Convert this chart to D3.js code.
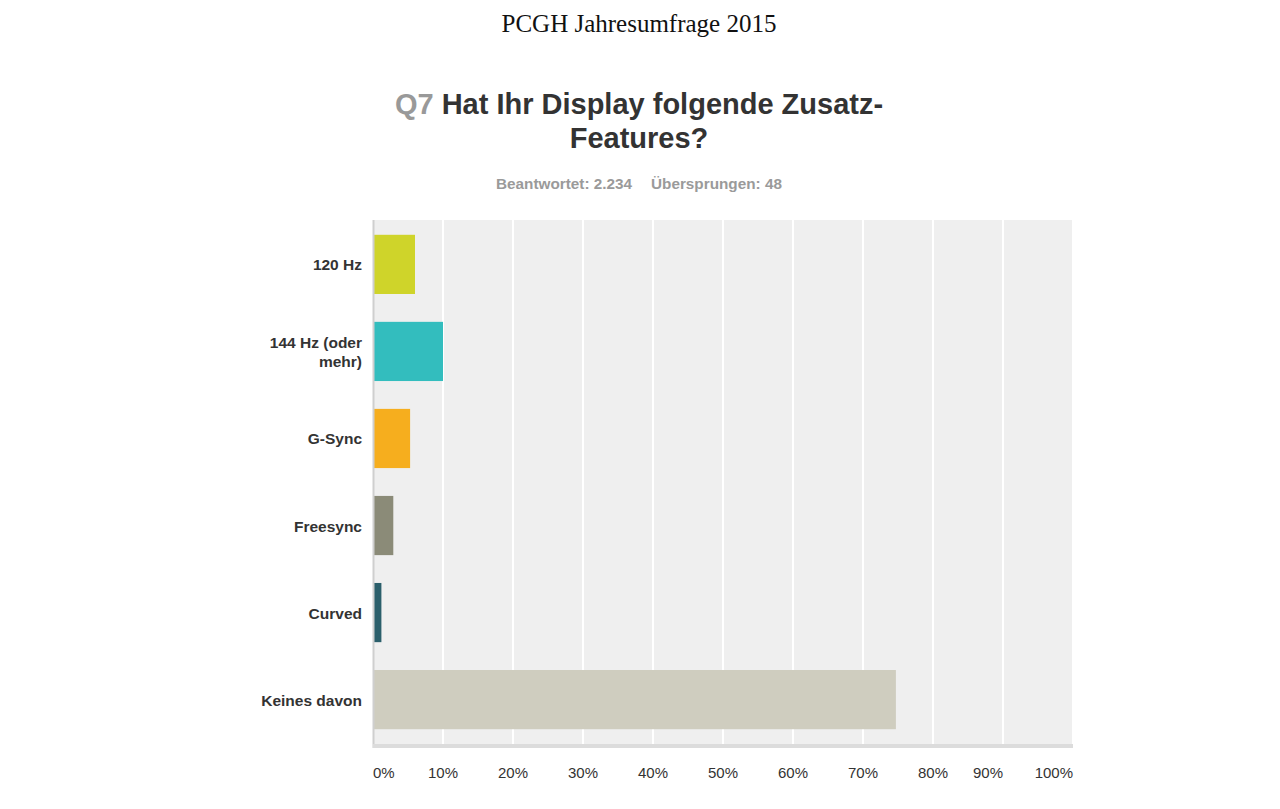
<!DOCTYPE html>
<html>
<head lang="de">
    <meta charset="UTF-8">
    <title>PCGH Jahresumfrage 2015 - Q7</title>
    <script src="https://d3js.org/d3.v7.min.js"></script>
    <style>
        body { margin: 0; background: #fff; }
    </style>
</head>
<body>
<div id="chartContainer"></div>
<script type="text/javascript">
    // answers (label lines) and share of respondents in percent
    var categories = [["120 Hz"], ["144 Hz (oder", "mehr)"], ["G-Sync"], ["Freesync"], ["Curved"], ["Keines davon"]];
    var values = [6.0, 10.0, 5.3, 2.9, 1.2, 74.7];
    var colors = ["#cfd42a", "#33bdbe", "#f6ae1e", "#8b8b78", "#2b5f6b", "#cfcdbf"];
    var ticks = [0, 10, 20, 30, 40, 50, 60, 70, 80, 90, 100];

    var W = 1280, H = 809;
    var svg = d3.select("#chartContainer").append("svg")
        .attr("width", W).attr("height", H);

    var sans = "'Liberation Sans', Arial, sans-serif";

    // page heading
    svg.append("text")
        .attr("x", 639).attr("y", 32)
        .attr("text-anchor", "middle")
        .style("font-family", "'Liberation Serif', 'Times New Roman', serif")
        .style("font-size", "25px")
        .style("fill", "#111")
        .text("PCGH Jahresumfrage 2015");

    // question title, two lines
    var q = svg.append("text")
        .attr("text-anchor", "middle")
        .style("font-family", sans)
        .style("font-size", "29px")
        .style("font-weight", "bold")
        .style("fill", "#333");
    var l1 = q.append("tspan").attr("x", 639).attr("y", 114);
    l1.append("tspan").style("fill", "#999").text("Q7 ");
    l1.append("tspan").text("Hat Ihr Display folgende Zusatz-");
    q.append("tspan").attr("x", 639).attr("y", 148).text("Features?");

    // answered / skipped counts
    var sub = svg.append("text")
        .attr("y", 189)
        .style("font-family", sans)
        .style("font-size", "15.3px")
        .style("font-weight", "bold")
        .style("fill", "#9a9a9a");
    sub.append("tspan").attr("x", 496).text("Beantwortet: 2.234");
    sub.append("tspan").attr("x", 651).text("Übersprungen: 48");

    // plot area
    var plotL = 373, plotR = 1073, plotT = 220, plotB = 744;

    var x = d3.scaleLinear().domain([0, 100]).range([plotL, plotR]);
    var y = d3.scaleBand()
        .domain(d3.range(categories.length))
        .range([plotT, plotB])
        .paddingInner(0.32)
        .paddingOuter(0.17);

    svg.append("rect")
        .attr("x", plotL).attr("y", plotT)
        .attr("width", plotR - plotL).attr("height", plotB - plotT)
        .style("fill", "#efefef");

    // vertical gridlines
    svg.selectAll("line.grid")
        .data(ticks.slice(1))
        .enter()
        .append("line")
        .attr("class", "grid")
        .attr("x1", function (d) { return x(d); })
        .attr("x2", function (d) { return x(d); })
        .attr("y1", plotT).attr("y2", plotB)
        .style("stroke", "#fff")
        .style("stroke-width", 2);

    // bars
    svg.selectAll("rect.bar")
        .data(values)
        .enter()
        .append("rect")
        .attr("class", "bar")
        .attr("x", x(0))
        .attr("y", function (d, i) { return y(i); })
        .attr("width", function (d) { return x(d) - x(0); })
        .attr("height", y.bandwidth())
        .style("fill", function (d, i) { return colors[i]; });

    // left axis line and bottom strip
    svg.append("line")
        .attr("x1", plotL + 0.5).attr("x2", plotL + 0.5)
        .attr("y1", plotT).attr("y2", plotB + 4)
        .style("stroke", "#cfcfcf")
        .style("stroke-width", 2);
    svg.append("rect")
        .attr("x", plotL).attr("y", plotB)
        .attr("width", plotR - plotL).attr("height", 4)
        .style("fill", "#dcdcdc");

    // category labels
    var labels = svg.selectAll("text.cat")
        .data(categories)
        .enter()
        .append("text")
        .attr("class", "cat")
        .attr("text-anchor", "end")
        .style("font-family", sans)
        .style("font-size", "15.5px")
        .style("font-weight", "bold")
        .style("fill", "#333");
    labels.each(function (d, i) {
        var cy = y(i) + y.bandwidth() / 2;
        var t = d3.select(this);
        d.forEach(function (line, k) {
            t.append("tspan")
                .attr("x", 362)
                .attr("y", cy + 6 + (k - (d.length - 1) / 2) * 19)
                .text(line);
        });
    });

    // x tick labels
    svg.selectAll("text.tick")
        .data(ticks)
        .enter()
        .append("text")
        .attr("class", "tick")
        .attr("x", function (d) { return x(d); })
        .attr("y", 778)
        .attr("text-anchor", function (d) {
            if (d === 0) return "start";
            if (d >= 90) return "end";
            return "middle";
        })
        .style("font-family", sans)
        .style("font-size", "15px")
        .style("fill", "#333")
        .text(function (d) { return d + "%"; });
</script>
</body>
</html>
